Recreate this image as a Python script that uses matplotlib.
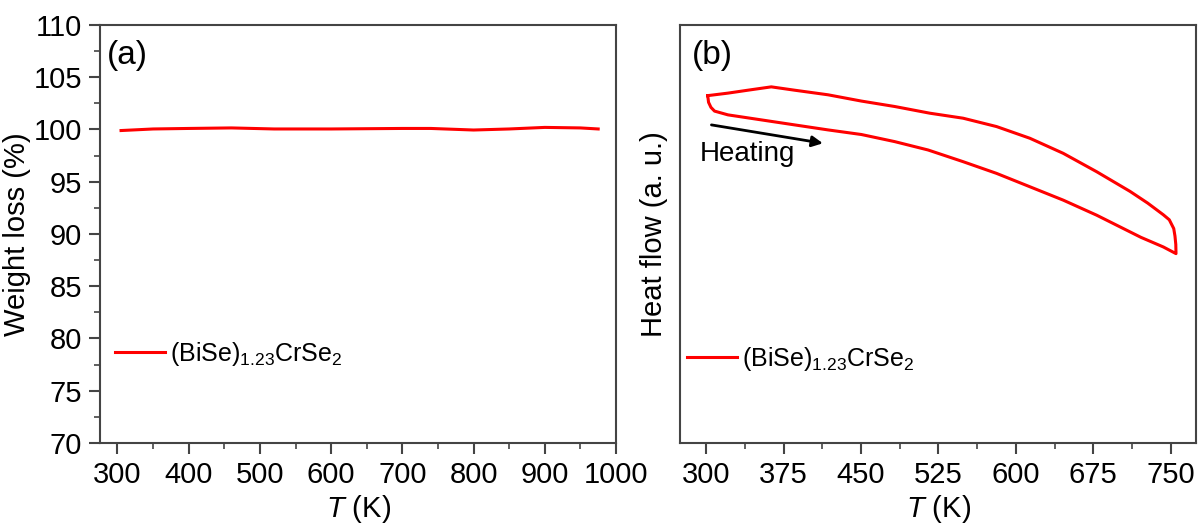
import matplotlib
matplotlib.use("Agg")
from matplotlib import pyplot as plt
from matplotlib.ticker import MultipleLocator

plt.rcParams['font.family'] = ['Liberation Sans', 'DejaVu Sans']
plt.rcParams['mathtext.fontset'] = 'custom'
plt.rcParams['mathtext.rm'] = 'Liberation Sans'
plt.rcParams['mathtext.it'] = 'Liberation Sans:italic'
plt.rcParams['mathtext.default'] = 'regular'

# TGA: weight vs temperature
tga_T = [305, 350, 400, 460, 520, 600, 700, 740, 800, 850, 900, 950, 975]
tga_w = [99.9, 100.05, 100.1, 100.15, 100.05, 100.05, 100.1, 100.1, 99.95, 100.05, 100.2, 100.15, 100.05]

# DSC heating branch (arbitrary units)
heat_T = [301.4, 302.2, 304.5, 308, 321, 353.3, 385.6, 418, 450.3, 482.6,
          514.9, 548.9, 581.3, 613.6, 645.9, 678.3, 695.3, 721.2, 742.9, 755.2]
heat_q = [83.1, 81.5, 80.3, 79.4, 78.5, 77.3, 76.1, 74.9, 73.8, 72.1,
          70.1, 67.3, 64.5, 61.3, 58.1, 54.5, 52.4, 49.2, 46.9, 45.3]
# DSC cooling branch
cool_T = [755.2, 755.0, 754.2, 753, 748.7, 742.9, 727.7, 710.6, 678.3, 645.9,
          613.6, 581.3, 548.9, 516.6, 482.6, 450.3, 418, 385.6, 363, 340.3,
          321, 301.4]
cool_q = [45.3, 47.5, 49.5, 51.3, 53.4, 54.6, 57.4, 60.2, 64.9, 69.3,
          72.9, 75.7, 77.7, 78.9, 80.5, 81.8, 83.3, 84.4, 85.2, 84.4,
          83.7, 83.1]

sample = '(BiSe)$_{1.23}$CrSe$_2$'
red = '#ff0000'
spine = '#444444'

fig = plt.figure(figsize=(12.01, 5.24), dpi=100)
ax1 = fig.add_axes([0.0833, 0.1546, 0.4296, 0.7977])
ax2 = fig.add_axes([0.5666, 0.1546, 0.4296, 0.7977])

for ax in (ax1, ax2):
    for s in ax.spines.values():
        s.set_color(spine)
        s.set_linewidth(1.5)
    ax.tick_params(which='major', direction='out', length=8, width=1.5,
                   color=spine, labelsize=21, pad=5)
    ax.tick_params(which='minor', direction='out', length=4, width=1.2, color=spine)
    ax.set_xlabel(r'$\mathit{T}$ (K)', fontsize=21, labelpad=3)

# (a) weight loss
ax1.plot(tga_T, tga_w, color=red, lw=2.2, label=sample)
ax1.set_xlim(275.5, 1000)
ax1.set_ylim(70, 110)
ax1.xaxis.set_major_locator(MultipleLocator(100))
ax1.xaxis.set_minor_locator(MultipleLocator(50))
ax1.yaxis.set_major_locator(MultipleLocator(5))
ax1.yaxis.set_minor_locator(MultipleLocator(2.5))
ax1.set_ylabel('Weight loss (%)', fontsize=21, labelpad=2)
ax1.text(0.013, 0.965, '(a)', transform=ax1.transAxes, fontsize=24, va='top', ha='left')
ax1.legend(loc='center left', bbox_to_anchor=(0.029, 0.213), frameon=False,
           fontsize=18, handlelength=2.0, handletextpad=0.2,
           borderpad=0, borderaxespad=0)

# (b) heat flow
ax2.plot(heat_T + cool_T, heat_q + cool_q, color=red, lw=2.2, label=sample)
ax2.set_xlim(275, 775)
ax2.set_ylim(0, 100)
ax2.xaxis.set_major_locator(MultipleLocator(75))
ax2.xaxis.set_minor_locator(MultipleLocator(37.5))
ax2.set_yticks([])
ax2.set_ylabel('Heat flow (a. u.)', fontsize=21, labelpad=9)
ax2.text(0.022, 0.965, '(b)', transform=ax2.transAxes, fontsize=24, va='top', ha='left')
ax2.annotate('', xy=(413, 71.7), xytext=(305, 76.1),
             arrowprops=dict(arrowstyle='-|>', color='black', lw=2,
                             mutation_scale=16, shrinkA=0, shrinkB=0))
ax2.text(294, 67.5, 'Heating', fontsize=20, va='baseline', ha='left')
ax2.legend(loc='center left', bbox_to_anchor=(0.012, 0.201), frameon=False,
           fontsize=18, handlelength=2.0, handletextpad=0.2,
           borderpad=0, borderaxespad=0)

fig.savefig('out.png', dpi=100)
